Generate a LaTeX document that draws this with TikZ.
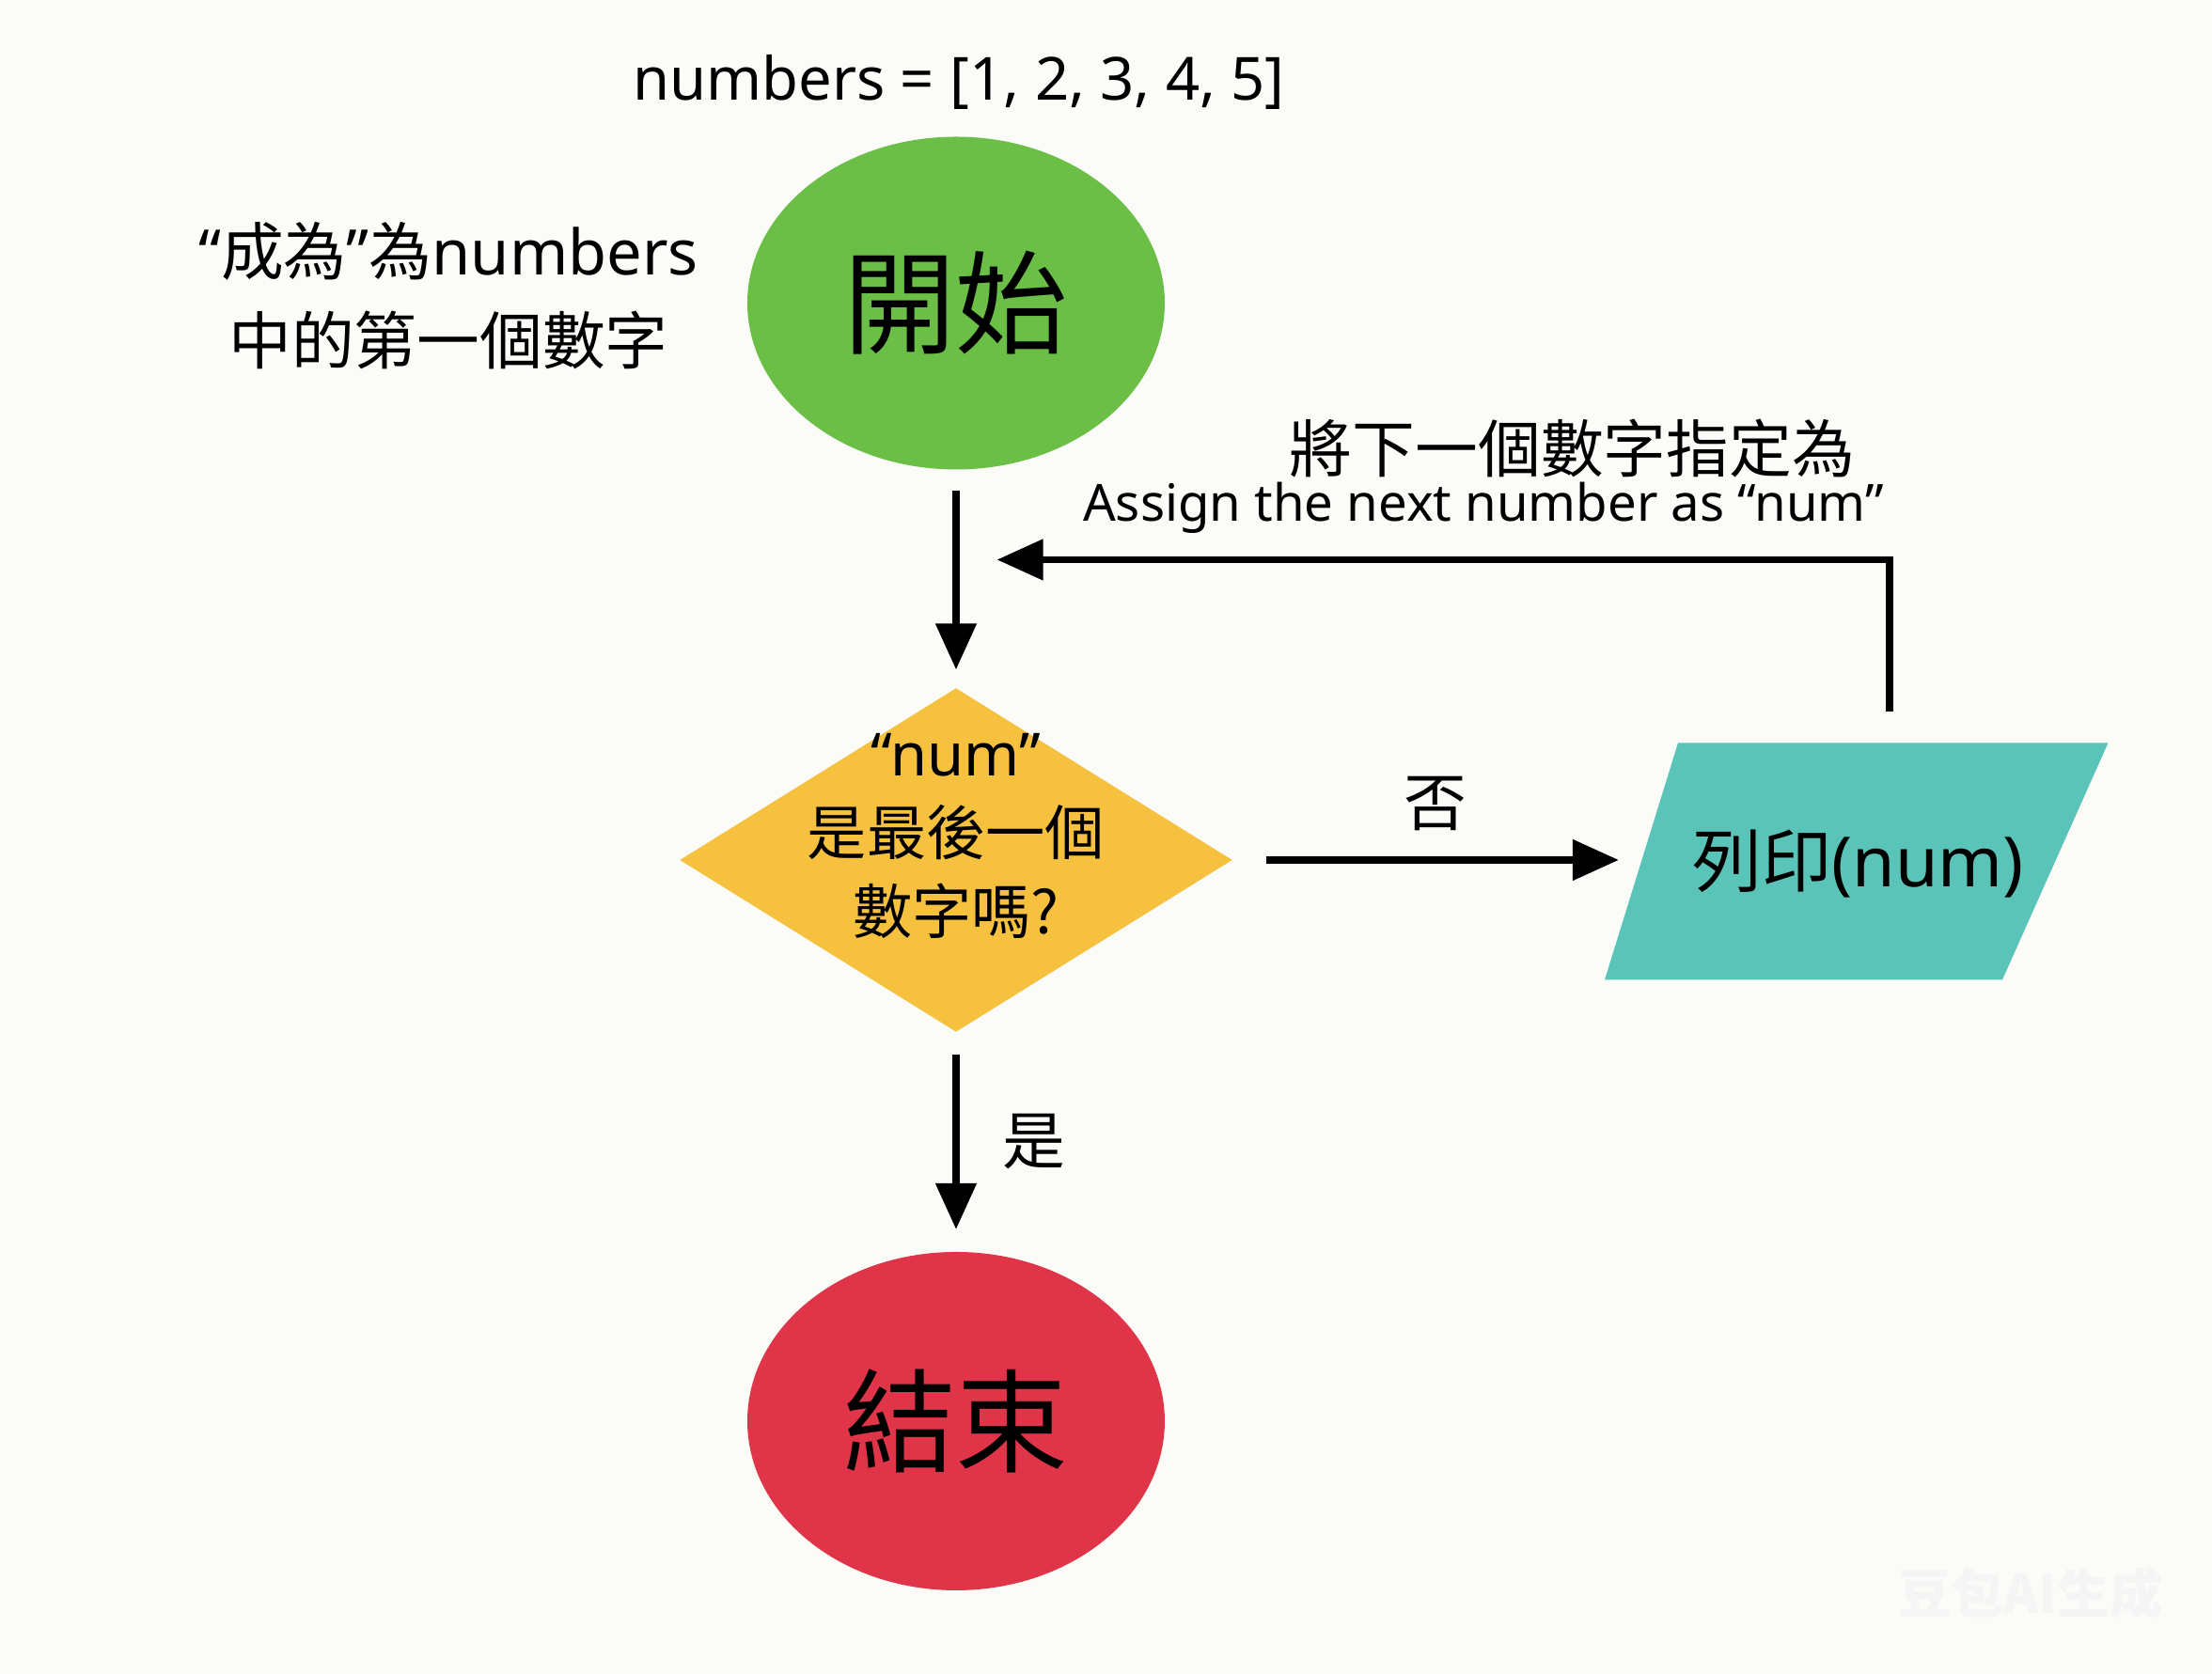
\documentclass[tikz,border=0pt]{standalone}
\usepackage{fontspec}
\setmainfont{Noto Sans CJK TC}
\newfontfamily\lat{Noto Sans}
\usetikzlibrary{shapes.geometric,arrows.meta}
\definecolor{bg}{HTML}{FBFBF8}
\definecolor{cgreen}{HTML}{6BBF47}
\definecolor{cyellow}{HTML}{F7C140}
\definecolor{cteal}{HTML}{5BC4B8}
\definecolor{cred}{HTML}{E03448}
\newcommand{\myLq}{{\lat “}}
\newcommand{\myRq}{{\lat ”}}
\begin{document}
\begin{tikzpicture}[x=0.015cm,y=-0.015cm,
  arr/.style={line width=2.2pt,-{Triangle[length=14pt,width=12pt]}},
  lbl/.style={font=\fontsize{19}{24}\selectfont,align=center,inner sep=0}]
\fill[bg] (0,0) rectangle (1568.7,1187.3);
\useasboundingbox (0,0) rectangle (1568.7,1187.3);
\node[lbl,font=\lat\fontsize{18}{22}\selectfont] (title) at (680,58) {numbers = [1, 2, 3, 4, 5]};
\node[ellipse,fill=cgreen,minimum width=296*0.015cm,minimum height=236*0.015cm,font=\fontsize{34}{40}\selectfont] (start) at (678,215) {開始};
\node[lbl,font=\fontsize{19}{27}\selectfont] (init) at (318,210) {\myLq 成為\myRq 為{\lat numbers}\\中的第一個數字};
\node[diamond,fill=cyellow,minimum width=392*0.015cm,minimum height=244*0.015cm,inner sep=0,aspect=1.6] (dec) at (678,610) {};
\node[lbl,font=\fontsize{18}{24}\selectfont] (dect) at (678,593) {{\lat “num”}\\是最後一個\\數字嗎?};
\coordinate (p1) at (1190,527);\coordinate (p2) at (1495,527);
\coordinate (p3) at (1420,695);\coordinate (p4) at (1138,695);
\fill[cteal] (p1)--(p2)--(p3)--(p4)--cycle;
\node[lbl,font=\fontsize{21}{26}\selectfont] (print) at (1318,613) {列印{\lat (num)}};
\node[ellipse,fill=cred,minimum width=296*0.015cm,minimum height=240*0.015cm,font=\fontsize{34}{40}\selectfont] (end) at (678,1008) {結束};
\coordinate (a1) at (678,348);\coordinate (a2) at (678,475);
\draw[arr] (a1)--(a2);
\coordinate (b1) at (898,610);\coordinate (b2) at (1148,610);
\draw[arr] (b1)--(b2);
\node[lbl] (no) at (1018,570) {否};
\coordinate (c1) at (1340,505);\coordinate (c2) at (1340,397);\coordinate (c3) at (707,397);
\draw[arr] (c1)--(c2)--(c3);
\node[lbl] (asg1) at (1115,318) {將下一個數字指定為};
\node[lbl,font=\lat\fontsize{15.5}{20}\selectfont] (asg2) at (1052,360) {Assign the next number as “num”};
\coordinate (d1) at (678,748);\coordinate (d2) at (678,872);
\draw[arr] (d1)--(d2);
\node[lbl] (yes) at (733,810) {是};
\node[lbl,font=\bfseries\fontsize{16}{20}\selectfont,text=white!92!gray] (wm) at (1440,1130) {豆包AI生成};
\end{tikzpicture}
\end{document}
